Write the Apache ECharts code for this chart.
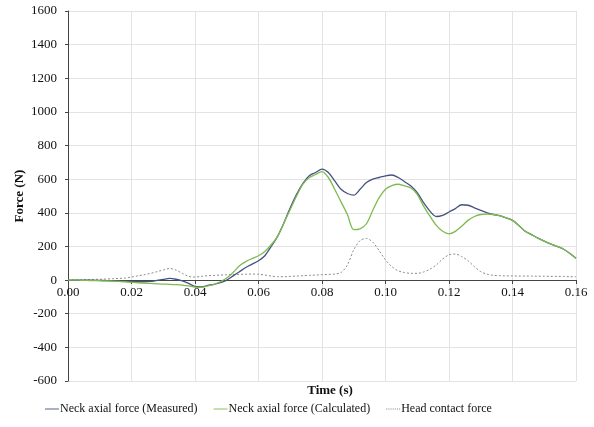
<!DOCTYPE html>
<html><head><meta charset="utf-8">
<script src="https://cdn.jsdelivr.net/npm/echarts@6/dist/echarts.min.js"></script>
<style>html,body{margin:0;padding:0;background:#fff}#c{width:594px;height:427px}</style>
</head><body><div id="c"></div>
<script>
const times = [0.000,0.002,0.004,0.006,0.008,0.010,0.012,0.014,0.016,0.018,0.020,0.022,0.024,0.026,0.028,0.030,0.032,0.034,0.036,0.038,0.040,0.042,0.044,0.046,0.048,0.050,0.052,0.054,0.056,0.058,0.060,0.062,0.064,0.066,0.068,0.070,0.072,0.074,0.076,0.078,0.080,0.082,0.084,0.086,0.088,0.090,0.092,0.094,0.096,0.098,0.100,0.102,0.104,0.106,0.108,0.110,0.112,0.114,0.116,0.118,0.120,0.122,0.124,0.126,0.128,0.130,0.132,0.134,0.136,0.138,0.140,0.142,0.144,0.146,0.148,0.150,0.152,0.154,0.156,0.158,0.160];
const measured = [0,0,0,0,-1,-2,-3,-4,-5,-7,-9,-10,-10,-8,-2,4,10,5,-5,-20,-38,-40,-32,-25,-15,0,25,50,75,95,115,145,200,260,340,430,510,575,620,640,660,640,590,540,515,505,540,580,600,610,620,625,610,585,560,520,460,410,378,385,405,425,448,445,430,415,400,390,383,370,355,325,290,270,250,232,215,200,185,160,130];
const calculated = [0,0,-1,-2,-3,-4,-5,-6,-8,-10,-13,-16,-18,-20,-22,-24,-25,-27,-30,-35,-42,-43,-35,-25,-10,12,45,85,110,128,145,170,210,260,340,420,500,570,610,628,645,610,540,465,390,300,305,335,415,490,540,562,570,560,548,510,440,380,325,290,275,290,320,355,378,390,392,390,382,370,355,325,290,270,250,232,215,200,185,160,130];
const headContact = [0,2,2,3,4,5,6,8,10,12,18,25,32,40,50,60,69,60,40,22,18,22,26,28,30,32,33,34,35,36,35,30,24,20,20,22,24,26,28,30,32,34,36,45,90,180,235,248,225,175,120,80,55,45,40,40,48,65,90,125,150,155,140,115,80,50,35,28,26,25,25,24,24,24,23,23,22,22,22,20,20];
const seriesNames = ['Neck axial force (Measured)','Neck axial force (Calculated)','Head contact force'];
const yTicks = {min:-600, max:1600, step:200};
const xTicks = {min:0, max:0.16, step:0.02};

const pair = arr => times.map((t,i)=>[t,arr[i]]);
const font = 'Liberation Serif';
const solidIcon = 'path://M0,0H20V1.3H0Z';
const dotIcon = 'path://M0,0H1.5V1.3H0ZM3,0H4.5V1.3H3ZM6,0H7.5V1.3H6ZM9,0H10.5V1.3H9ZM12,0H13.5V1.3H12ZM15,0H16.5V1.3H15ZM18,0H19.5V1.3H18Z';
const chart = echarts.init(document.getElementById('c'), null, {renderer:'canvas'});
chart.setOption({
  animation:false,
  textStyle:{fontFamily:font},
  grid:{left:68,right:18,top:11,bottom:46,containLabel:false},
  title:{text:'Time (s)',left:325,top:379,textAlign:'center',textStyle:{fontFamily:font,fontSize:13,fontWeight:'bold',color:'#111'}},
  legend:{top:398,left:40,itemWidth:14,itemHeight:1.3,itemGap:16,
    textStyle:{fontFamily:font,fontSize:12,color:'#111',padding:[0,0,0,-4]},
    data:[{name:seriesNames[0],icon:solidIcon},{name:seriesNames[1],icon:solidIcon},{name:seriesNames[2],icon:dotIcon}]},
  xAxis:{type:'value',min:xTicks.min,max:xTicks.max,interval:xTicks.step,
    position:'bottom',offset:-101,
    axisLine:{onZero:false,lineStyle:{color:'#444',width:1}},
    axisTick:{show:true,length:4,lineStyle:{color:'#444'}},
    axisLabel:{fontFamily:font,fontSize:13,color:'#111',margin:6,formatter:v=>v.toFixed(2)},
    splitLine:{show:true,lineStyle:{color:'#e3e3e3',width:1}}},
  yAxis:{type:'value',min:yTicks.min,max:yTicks.max,interval:yTicks.step,
    name:'Force (N)',nameLocation:'middle',nameGap:42,nameRotate:90,nameMoveOverlap:false,
    nameTextStyle:{fontFamily:font,fontSize:13,fontWeight:'bold',color:'#111'},
    axisLine:{show:true,lineStyle:{color:'#444',width:1}},
    axisTick:{show:true,length:3,lineStyle:{color:'#444'}},
    axisLabel:{fontFamily:font,fontSize:13,color:'#111',margin:11,formatter:v=>String(v)},
    splitLine:{show:true,lineStyle:{color:'#e3e3e3',width:1}}},
  series:[
    {name:seriesNames[0],type:'line',data:pair(measured),symbol:'none',smooth:0.3,
      lineStyle:{color:'#46527f',width:1.3},itemStyle:{color:'#46527f'},z:3},
    {name:seriesNames[1],type:'line',data:pair(calculated),symbol:'none',smooth:0.3,
      lineStyle:{color:'#7dbb4f',width:1.3},itemStyle:{color:'#7dbb4f'},z:4},
    {name:seriesNames[2],type:'line',data:pair(headContact),symbol:'none',smooth:0.3,
      lineStyle:{color:'#8a8a8a',width:1,type:[2,2]},itemStyle:{color:'#8a8a8a'},z:2}
  ]
});
</script></body></html>
